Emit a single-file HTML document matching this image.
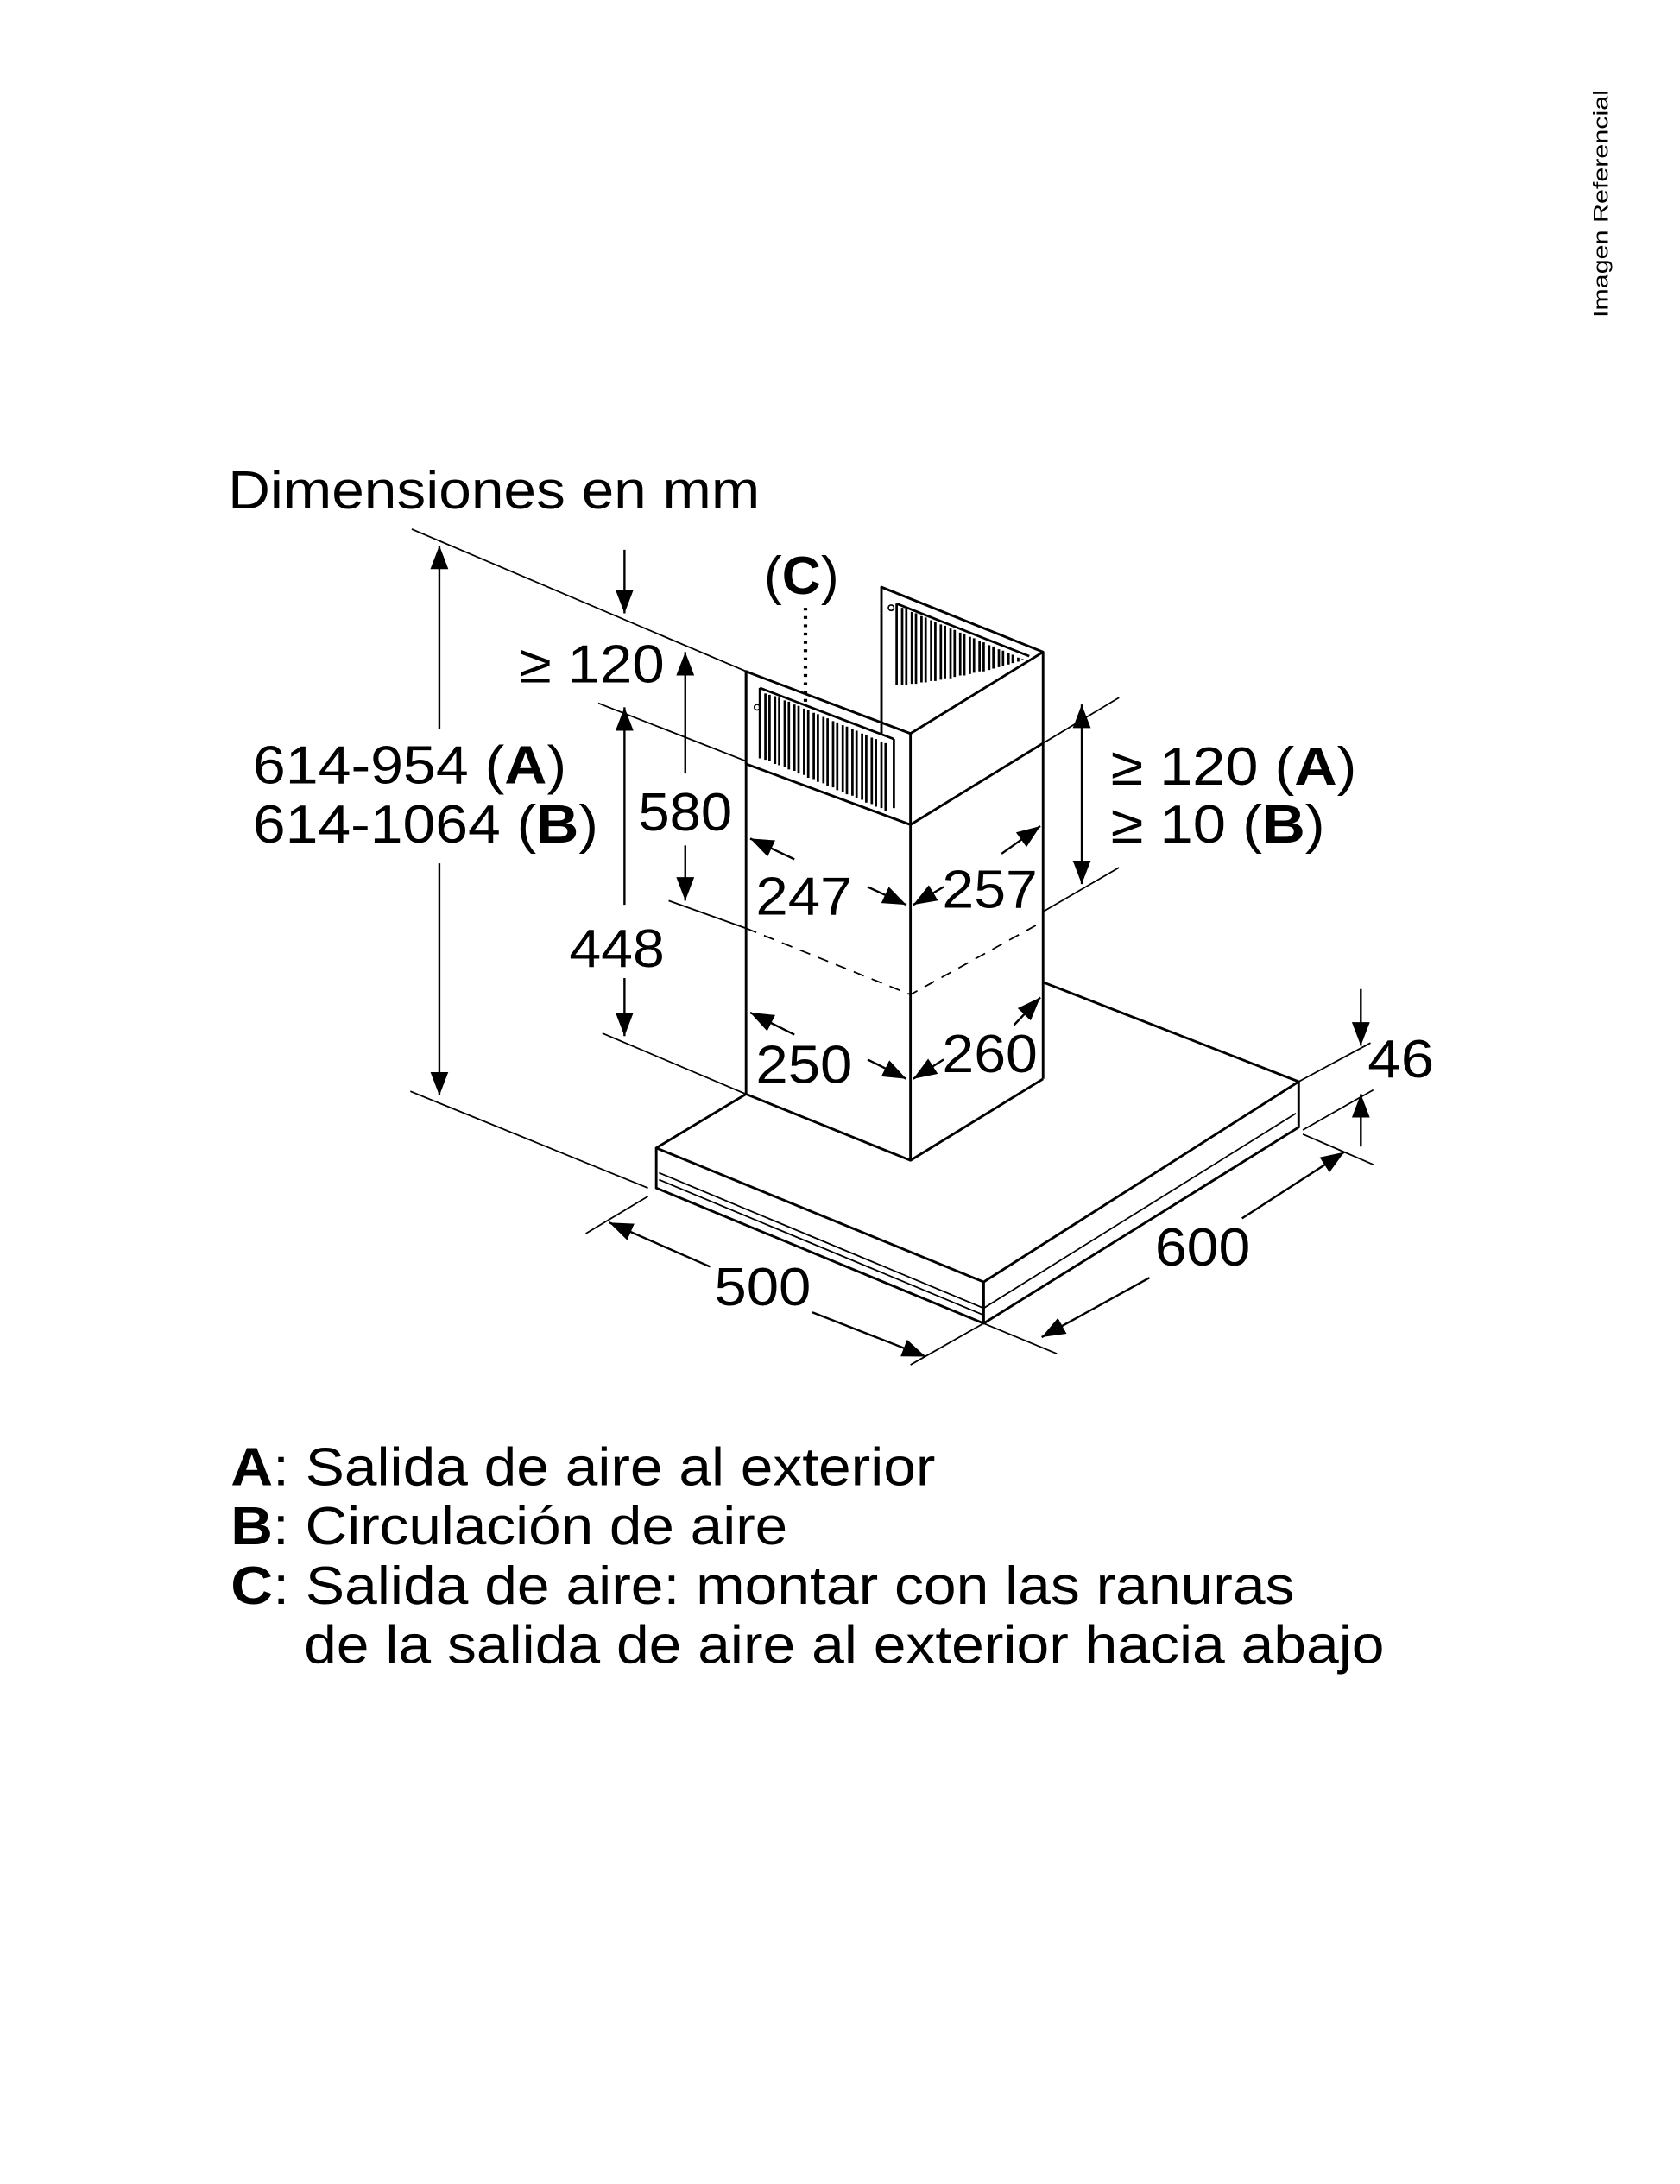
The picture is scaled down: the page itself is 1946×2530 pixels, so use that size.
<!DOCTYPE html>
<html><head><meta charset="utf-8"><style>
html,body{margin:0;padding:0;background:#fff;}
svg{display:block;}
text{font-family:"Liberation Sans",Arial,sans-serif;fill:#000;}
</style></head><body>
<svg width="1946" height="2530" viewBox="0 0 1216 1581" xmlns="http://www.w3.org/2000/svg">
<defs>
<marker id="ah" markerUnits="userSpaceOnUse" markerWidth="20" markerHeight="14" refX="17" refY="6.5" orient="auto-start-reverse">
<path d="M0,0 L17,6.5 L0,13 z" fill="#000"/></marker>
</defs>

<text x="0" y="0" font-size="15" transform="translate(1164,230) rotate(-90)" textLength="165" lengthAdjust="spacingAndGlyphs">Imagen Referencial</text>

<text x="165" y="368" font-size="39" textLength="385" lengthAdjust="spacingAndGlyphs">Dimensiones en mm</text>

<g stroke="#000" fill="none" stroke-width="1.1">
<line x1="298" y1="383" x2="540" y2="486"/>
<line x1="297" y1="790" x2="469" y2="860"/>
<line x1="433" y1="509" x2="540" y2="551"/>
<line x1="484" y1="652" x2="540" y2="672"/>
<line x1="436" y1="748" x2="540" y2="792"/>
<line x1="755" y1="538" x2="810" y2="505"/>
<line x1="755" y1="660" x2="810" y2="628"/>
<line x1="940" y1="783" x2="992" y2="755"/>
<line x1="943" y1="818" x2="994" y2="789"/>
<line x1="943" y1="821" x2="994" y2="843"/>
<line x1="712" y1="958" x2="765" y2="980"/>
<line x1="712" y1="958" x2="659" y2="988"/>
<line x1="424" y1="893" x2="469" y2="866"/>
<path d="M540,672 L659,720 L755,667" stroke-dasharray="8,6"/>
</g>

<g stroke="#000" fill="none" stroke-width="1.5">
<line x1="318" y1="395" x2="318" y2="528" marker-start="url(#ah)"/>
<line x1="318" y1="625" x2="318" y2="793" marker-end="url(#ah)"/>
<line x1="452" y1="398" x2="452" y2="444" marker-end="url(#ah)"/>
<line x1="496" y1="472" x2="496" y2="560" marker-start="url(#ah)"/>
<line x1="496" y1="612" x2="496" y2="652" marker-end="url(#ah)"/>
<line x1="452" y1="512" x2="452" y2="655" marker-start="url(#ah)"/>
<line x1="452" y1="708" x2="452" y2="750" marker-end="url(#ah)"/>
<line x1="783" y1="510" x2="783" y2="640" marker-start="url(#ah)" marker-end="url(#ah)"/>
<line x1="985" y1="716" x2="985" y2="757" marker-end="url(#ah)"/>
<line x1="985" y1="830" x2="985" y2="792" marker-end="url(#ah)"/>
<line x1="973" y1="834" x2="899" y2="882" marker-start="url(#ah)"/>
<line x1="832" y1="925" x2="754" y2="968" marker-end="url(#ah)"/>
<line x1="441" y1="885" x2="514" y2="917" marker-start="url(#ah)"/>
<line x1="588" y1="950" x2="670" y2="982" marker-end="url(#ah)"/>
<line x1="575" y1="622" x2="543" y2="607" marker-end="url(#ah)"/>
<line x1="628" y1="642" x2="656" y2="655" marker-end="url(#ah)"/>
<line x1="725" y1="618" x2="753" y2="598" marker-end="url(#ah)"/>
<line x1="683" y1="642" x2="661" y2="655" marker-end="url(#ah)"/>
<line x1="575" y1="749" x2="543" y2="733" marker-end="url(#ah)"/>
<line x1="628" y1="767" x2="656" y2="781" marker-end="url(#ah)"/>
<line x1="734" y1="742" x2="753" y2="722" marker-end="url(#ah)"/>
<line x1="683" y1="767" x2="661" y2="781" marker-end="url(#ah)"/>
</g>

<line x1="583" y1="440" x2="583" y2="512" stroke="#000" stroke-width="2.6" stroke-dasharray="2,4"/>

<g stroke="#000" fill="none" stroke-width="1.8" stroke-linejoin="round">
<path d="M638,531 L638,425 L755,472"/>
<circle cx="645" cy="440" r="2" stroke-width="1"/>
<path d="M540,553 L540,486 L545,488"/>
<path d="M545,488 L659,531 L755,472 L755,781"/>
<circle cx="548" cy="512" r="2" stroke-width="1"/>
<path d="M540,486 L540,792 L659,840 L755,781"/>
<path d="M540,553 L659,597 L755,538"/>
<line x1="659" y1="531" x2="659" y2="840"/>
<path d="M540,792 L475,831 L712,928 L940,783 L755,711"/>
<path d="M475,831 L475,860 L712,958 L940,816 L940,783"/>
<line x1="712" y1="928" x2="712" y2="958"/>
<path d="M477,849 L712,947 L938,806" stroke-width="1.1"/>
<path d="M477,854 L712,952" stroke-width="1.1"/>
</g>

<g stroke="#000" stroke-width="1.7" fill="none">
<path d="M550,498 L647,535 M550,498 L550,549 M647,535 L647,585"/>
<path d="M554,502V550 M557,503V551 M561,504V553 M564,505V554 M568,507V555 M571,508V557 M575,510V558 M578,511V560 M582,513V561 M585,514V563 M589,516V564 M592,517V566 M596,519V567 M599,520V569 M603,522V570 M606,523V572 M610,525V573 M613,526V575 M617,528V576 M620,529V578 M624,531V579 M627,532V581 M631,534V582 M634,535V584 M638,537V585 M641,538V587"/>
<path d="M649,437 L745,475 M649,437 L649,496"/>
<path d="M653,440V496 M656,441V496 M660,443V495 M663,444V495 M667,446V494 M670,447V494 M674,449V493 M677,450V493 M681,452V492 M684,453V491 M688,455V491 M691,456V490 M695,458V489 M698,459V489 M702,461V488 M705,462V487 M709,464V486 M712,465V486 M716,467V485 M719,468V484 M723,470V483 M726,471V482 M730,473V481 M733,474V480 M737,476V479 M740,477V478"/>
</g>

<g font-size="39">
<text x="553" y="430">(<tspan font-weight="bold">C</tspan>)</text>
<text x="376" y="494" textLength="105" lengthAdjust="spacingAndGlyphs">≥ 120</text>
<text x="183" y="567" textLength="227" lengthAdjust="spacingAndGlyphs">614-954 (<tspan font-weight="bold">A</tspan>)</text>
<text x="183" y="610" textLength="250" lengthAdjust="spacingAndGlyphs">614-1064 (<tspan font-weight="bold">B</tspan>)</text>
<text x="462" y="601" textLength="68" lengthAdjust="spacingAndGlyphs">580</text>
<text x="412" y="700" textLength="69" lengthAdjust="spacingAndGlyphs">448</text>
<text x="547" y="662" textLength="70" lengthAdjust="spacingAndGlyphs">247</text>
<text x="682" y="657" textLength="69" lengthAdjust="spacingAndGlyphs">257</text>
<text x="547" y="784" textLength="70" lengthAdjust="spacingAndGlyphs">250</text>
<text x="682" y="776" textLength="69" lengthAdjust="spacingAndGlyphs">260</text>
<text x="804" y="568" textLength="178" lengthAdjust="spacingAndGlyphs">≥ 120 (<tspan font-weight="bold">A</tspan>)</text>
<text x="804" y="610" textLength="155" lengthAdjust="spacingAndGlyphs">≥ 10 (<tspan font-weight="bold">B</tspan>)</text>
<text x="990" y="780" textLength="48" lengthAdjust="spacingAndGlyphs">46</text>
<text x="836" y="916" textLength="69" lengthAdjust="spacingAndGlyphs">600</text>
<text x="517" y="945" textLength="70" lengthAdjust="spacingAndGlyphs">500</text>

<text x="167" y="1075" textLength="510" lengthAdjust="spacingAndGlyphs"><tspan font-weight="bold">A</tspan>: Salida de aire al exterior</text>
<text x="167" y="1118" textLength="403" lengthAdjust="spacingAndGlyphs"><tspan font-weight="bold">B</tspan>: Circulación de aire</text>
<text x="167" y="1161" textLength="770" lengthAdjust="spacingAndGlyphs"><tspan font-weight="bold">C</tspan>: Salida de aire: montar con las ranuras</text>
<text x="220" y="1204" textLength="782" lengthAdjust="spacingAndGlyphs">de la salida de aire al exterior hacia abajo</text>
</g>
</svg>
</body></html>
